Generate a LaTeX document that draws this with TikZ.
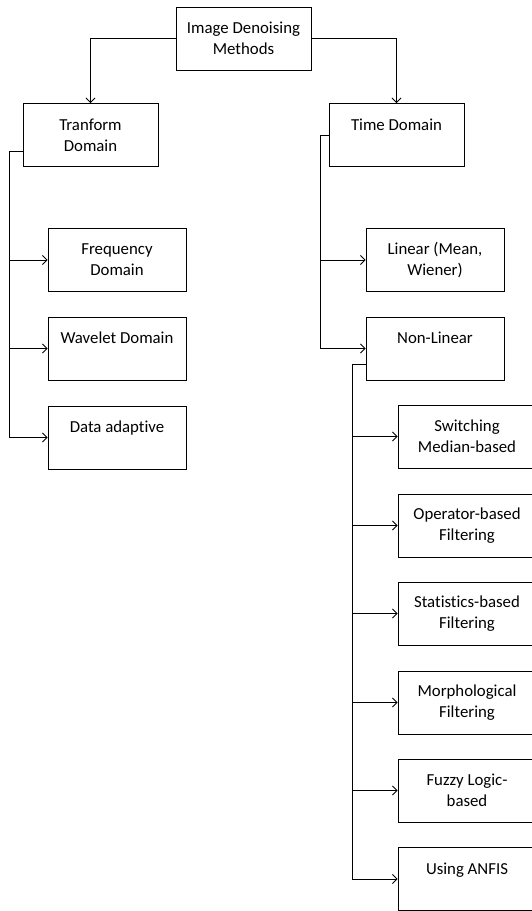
\documentclass[tikz,border=0pt]{standalone}
\usepackage{fontspec}
\setmainfont{Carlito}[Ligatures={NoCommon,NoRare}]
\usetikzlibrary{arrows.meta,calc}
\begin{document}
\begin{tikzpicture}[x=1pt,y=-1pt,
  box/.style={draw, line width=0.9pt, inner sep=0pt, align=center,
    font=\fontsize{16.8}{21}\selectfont},
  boxA/.style={box, minimum width=135pt, minimum height=63pt},
  boxB/.style={box, minimum width=138pt, minimum height=63pt},
  link/.style={line width=0.9pt},
  arr/.style={line width=0.9pt, -{Straight Barb[length=4.5pt,width=9pt]}}]
\useasboundingbox (0,0) rectangle (532,911);
\clip (0,0) rectangle (532,911);
\node[boxA] (top) at (243.5,38.5) {Image Denoising\\Methods};
\node[boxA] (tran) at (90.5,135) {Tranform\\Domain};
\node[boxA] (time) at (396.5,135) {Time Domain\\\mbox{}};
\node[boxB] (freq) at (117,260) {Frequency\\Domain};
\node[boxB] (wave) at (117,348.5) {Wavelet Domain\\\mbox{}};
\node[boxB] (data) at (117,437.5) {Data adaptive\\\mbox{}};
\node[boxB] (lin) at (435,260) {Linear (Mean,\\Wiener)};
\node[boxB] (nonlin) at (435,348.5) {Non-Linear\\\mbox{}};
\node[boxB] (sw) at (467,436.5) {Switching\\Median-based};
\node[boxB] (op) at (467,525.5) {Operator-based\\Filtering};
\node[boxB] (st) at (467,613.5) {Statistics-based\\Filtering};
\node[boxB] (mo) at (467,702.5) {Morphological\\Filtering};
\node[boxB] (fu) at (467,790.5) {Fuzzy Logic-\\based};
\node[boxB] (an) at (467,879) {Using ANFIS\\\mbox{}};
% top level
\draw[arr] (top.west) -| (tran.north);
\draw[arr] (top.east) -| (time.north);
% transform domain branch
\coordinate (tb) at ($(tran.west)+(0,16)$);
\coordinate (lbus) at (9,0);
\draw[link] (tb) -| (lbus |- data.west);
\draw[arr] (lbus |- freq.west) -- (freq.west);
\draw[arr] (lbus |- wave.west) -- (wave.west);
\draw[arr] (lbus |- data.west) -- (data.west);
% time domain branch
\coordinate (rbus) at (320,0);
\draw[link] (time.west) -| (rbus |- nonlin.west);
\draw[arr] (rbus |- lin.west) -- (lin.west);
\draw[arr] (rbus |- nonlin.west) -- (nonlin.west);
% non-linear branch
\coordinate (nb) at ($(nonlin.west)+(0,15.5)$);
\coordinate (nbus) at (352,0);
\draw[link] (nb) -| (nbus |- an.west);
\draw[arr] (nbus |- sw.west) -- (sw.west);
\draw[arr] (nbus |- op.west) -- (op.west);
\draw[arr] (nbus |- st.west) -- (st.west);
\draw[arr] (nbus |- mo.west) -- (mo.west);
\draw[arr] (nbus |- fu.west) -- (fu.west);
\draw[arr] (nbus |- an.west) -- (an.west);
\end{tikzpicture}
\end{document}
